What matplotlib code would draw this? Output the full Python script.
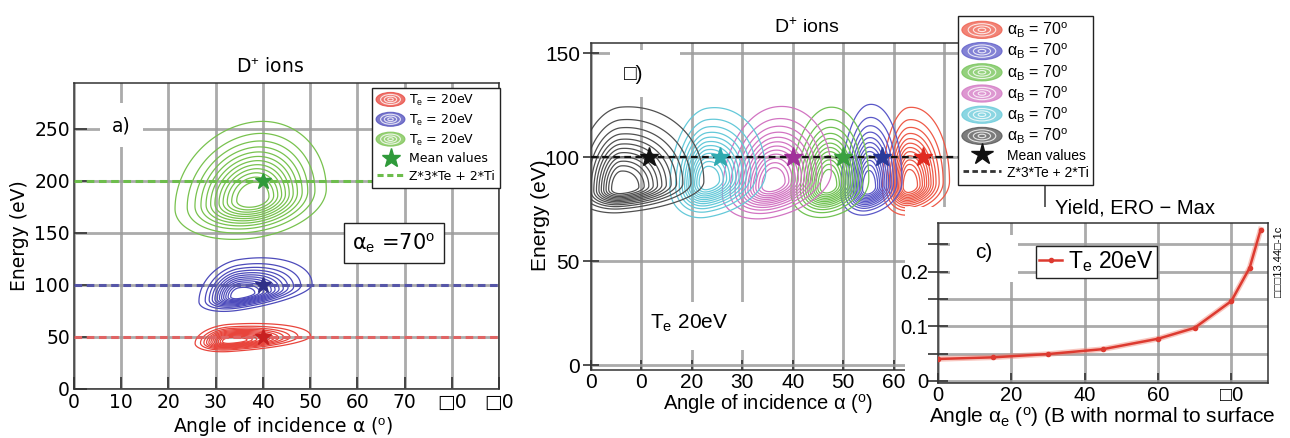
import numpy as np
import matplotlib
matplotlib.use("Agg")
import matplotlib.pyplot as plt
import matplotlib.patches as mpatches
from matplotlib.lines import Line2D
from matplotlib.legend_handler import HandlerBase
from matplotlib.patches import Ellipse, Rectangle

plt.rcParams['font.family'] = ['DejaVu Sans']
plt.rcParams['mathtext.fontset'] = 'custom'
plt.rcParams['mathtext.rm'] = 'Liberation Sans'
plt.rcParams['mathtext.it'] = 'Liberation Sans:italic'
LIB = ['Liberation Sans', 'DejaVu Sans']
DJV = ['DejaVu Sans']

# ---------------- data ----------------
# panel a: three Te cases (red, blue, green)
a_colors = ['#e8453c', '#4d4bbb', '#78c24e']
a_star_colors = ['#c82020', '#303088', '#2f9a3a']
a_line_colors = ['#e06464', '#5656a8', '#6dbd4c']
a_labels = ['T$_{\\rm e}$ = 20eV', 'T$_{\\rm e}$ = 20eV', 'T$_{\\rm e}$ = 20eV']
a_mean_x = [40, 40, 40]
a_mean_y = [50, 100, 200]
a_line_y = [50, 100, 200]
# distribution shape (peak and asymmetric widths)
a_peak_x = [33, 35, 38]
a_peak_y = [46, 90, 183]
a_sx_left = [3.1, 3.6, 7.0]
a_sx_right = [7.2, 6.5, 6.5]
a_sy_low = [4.2, 6.0, 16.0]
a_sy_high = [6.8, 14.5, 31.0]
a_tilt = [0.3, 0.7, 0.6]

# panel b: six alpha_B cases
b_colors = ['#ee5a48', '#5a58c8', '#70c252', '#d274c2', '#64c9d9', '#505050']
b_star_colors = ['#e02a20', '#2a3a9a', '#3aa040', '#a0309a', '#30aab0', '#111111']
b_labels = ['α$_{\\rm B}$ = 70$^{\\rm o}$'] * 6
b_mean_x = [65.8, 57.7, 50.0, 40.0, 25.6, 11.5]
b_mean_y = [100, 100, 100, 100, 100, 100]
b_line_y = 100
b_peak_x = [63.0, 55.0, 47.0, 36.0, 23.0, 6.0]
b_peak_y = [86, 85, 86, 87, 88, 85]
b_sx_left = [2.2, 2.3, 3.1, 4.2, 3.1, 3.8]
b_sx_right = [3.4, 2.8, 3.4, 4.9, 4.9, 6.9]
b_sy_low = [5.8, 5.3, 6.2, 6.7, 7.1, 4.9]
b_sy_high = [16.0, 17.0, 16.0, 15.6, 15.0, 16.5]
b_tilt = [0.3, 0.5, 0.4, 0.5, 0.4, 0.2]

# panel c: yield vs angle
c_angle = [0, 15, 30, 45, 60, 70, 80, 85, 88]
c_yield = [0.040, 0.043, 0.049, 0.058, 0.077, 0.097, 0.146, 0.207, 0.277]

a_xticks = [0, 10, 20, 30, 40, 50, 60, 70, 80, 90]
a_xticklabels = ['0', '10', '20', '30', '40', '50', '60', '70', '\u25a10', '\u25a10']
a_yticks = [0, 50, 100, 150, 200, 250]
b_xticks = [0, 10, 20, 30, 40, 50, 60, 70]
b_xticklabels = ['0', '0', '20', '30', '40', '50', '60', '']
b_yticks = [0, 50, 100, 150]
c_xticks = [0, 20, 40, 60, 80]
c_xticklabels = ['0', '20', '40', '60', '\u25a10']
c_yticks = [0, 0.05, 0.10, 0.15, 0.20, 0.25]
c_yticklabels = ['0', '', '0.1', '', '0.2', '']

W, H = 1290, 438
fig = plt.figure(figsize=(W / 100, H / 100), dpi=100)


def rect(l, r, t, b):
    return [l / W, 1 - b / H, (r - l) / W, (b - t) / H]


def white_box(l, r, t, b, z):
    fig.patches.append(Rectangle((l / W, 1 - b / H), (r - l) / W, (b - t) / H,
                                 transform=fig.transFigure, fc='white', ec='none', zorder=z))


def skew_gauss(X, Y, x0, y0, sxl, sxr, syl, syh, tilt):
    u = X - x0
    v = Y - y0 - tilt * u
    sx = np.where(u < 0, sxl, sxr)
    sy = np.where(v < 0, syl, syh)
    return np.exp(-0.5 * ((u / sx) ** 2 + (v / sy) ** 2))


class ContourIcon(HandlerBase):
    def create_artists(self, legend, orig_handle, xdescent, ydescent,
                       width, height, fontsize, trans):
        col = orig_handle.get_facecolor()
        cx = width / 2 - xdescent
        cy = height / 2 - ydescent
        arts = [Ellipse((cx, cy), width * 1.05, height * 1.35, facecolor=col,
                        edgecolor=col, lw=0.8, alpha=0.75, transform=trans)]
        for f in [0.72, 0.45, 0.2]:
            arts.append(Ellipse((cx, cy), width * f, height * 1.35 * f,
                                facecolor='none', edgecolor='white', lw=0.8,
                                alpha=0.8, transform=trans))
        return arts


def style_grid(ax):
    ax.grid(True, color='#9c9c9c', lw=2.0, alpha=0.85)
    ax.set_axisbelow(True)
    for s in ax.spines.values():
        s.set_color('#333333')
        s.set_linewidth(1.1)


levels = np.linspace(0.06, 0.88, 12)

# ---------------- panel a ----------------
axa = fig.add_axes(rect(74, 499, 83, 389))
xa = np.linspace(-5, 95, 500)
ya = np.linspace(-5, 300, 700)
XA, YA = np.meshgrid(xa, ya)
for i in range(3):
    Z = skew_gauss(XA, YA, a_peak_x[i], a_peak_y[i], a_sx_left[i], a_sx_right[i],
                   a_sy_low[i], a_sy_high[i], a_tilt[i])
    axa.contour(XA, YA, Z, levels=levels, colors=a_colors[i], linewidths=0.9, zorder=2)
for i in range(3):
    axa.axhline(a_line_y[i], color=a_line_colors[i], lw=2.2, ls=(0, (2.5, 1.5)), zorder=3)
    axa.plot(a_mean_x[i], a_mean_y[i], marker='*', ms=12, color=a_star_colors[i],
             ls='none', zorder=4)
axa.set_xlim(0, 90)
axa.set_ylim(0, 294)
axa.set_xticks(a_xticks)
axa.set_xticklabels(a_xticklabels)
axa.set_yticks(a_yticks)
axa.tick_params(direction='in', length=9, width=1.2, labelsize=13.5, pad=3, color='#333333')
style_grid(axa)

handles_a = [mpatches.Patch(facecolor=c, label=l) for c, l in zip(a_colors, a_labels)]
handles_a.append(Line2D([], [], marker='*', ms=14, color='#2f9a3a', ls='none', label='Mean values'))
handles_a.append(Line2D([], [], color='#6dbd4c', lw=2.2, ls=(0, (2, 1.2)), label='Z*3*Te + 2*Ti'))
lega = fig.legend(handles=handles_a, loc='upper left', bbox_to_anchor=(372 / W, 1 - 88 / H),
                  handler_map={mpatches.Patch: ContourIcon()}, prop=dict(family=DJV, size=9),
                  frameon=True, fancybox=False, framealpha=1, edgecolor='#222222',
                  handlelength=2.2, handleheight=0.9, handletextpad=0.4,
                  labelspacing=0.38, borderpad=0.38, borderaxespad=0)
lega.get_frame().set_linewidth(1.0)

fig.text(270 / W, 1 - 67 / H, 'D$^{+}$ ions', ha='center', va='center', fontsize=13.5)
fig.text(283 / W, 1 - 426 / H, 'Angle of incidence α ($^{\\rm o}$)', ha='center',
         va='center', fontsize=13.5)
fig.text(20 / W, 1 - 236 / H, 'Energy (eV)', ha='center', va='center', rotation=90, fontsize=13.5)
white_box(100, 143, 103, 147, 0.5)
fig.text(121 / W, 1 - 126 / H, 'a)', ha='center', va='center', fontsize=13.5)
fig.text(394 / W, 1 - 243 / H, 'α$_{\\rm e}$ =70$^{\\rm o}$', ha='center', va='center',
         fontsize=15, bbox=dict(boxstyle='square,pad=0.4', fc='white', ec='#222222', lw=1.0))

# ---------------- panel b ----------------
axb = fig.add_axes(rect(591, 1045, 43, 370))
xb = np.linspace(-5, 95, 600)
yb = np.linspace(-5, 160, 500)
XB, YB = np.meshgrid(xb, yb)
for i in range(6):
    Z = skew_gauss(XB, YB, b_peak_x[i], b_peak_y[i], b_sx_left[i], b_sx_right[i],
                   b_sy_low[i], b_sy_high[i], b_tilt[i])
    axb.contour(XB, YB, Z, levels=levels, colors=b_colors[i], linewidths=0.9, zorder=2)
axb.axhline(b_line_y, color='#111111', lw=1.6, ls=(0, (3, 2)), zorder=3)
for i in range(6):
    axb.plot(b_mean_x[i], b_mean_y[i], marker='*', ms=14, color=b_star_colors[i],
             ls='none', zorder=4)
axb.set_xlim(0, 90)
axb.set_ylim(-2.4, 155)
axb.set_xticks(b_xticks)
axb.set_xticklabels(b_xticklabels)
axb.set_yticks(b_yticks)
axb.tick_params(axis='x', direction='in', length=7, width=1.2, labelsize=15, pad=2,
                color='#333333', labelfontfamily='Liberation Sans')
axb.tick_params(axis='y', direction='inout', length=12, width=1.2, labelsize=15, pad=2,
                color='#333333', labelfontfamily='Liberation Sans')
style_grid(axb)

handles_b = [mpatches.Patch(facecolor=c, label=l) for c, l in zip(b_colors, b_labels)]
handles_b.append(Line2D([], [], marker='*', ms=16, color='#111111', ls='none', label='Mean values'))
handles_b.append(Line2D([], [], color='#333333', lw=2.0, ls=(0, (2, 1.2)), label='Z*3*Te + 2*Ti'))
legb = fig.legend(handles=handles_b, loc='upper left', bbox_to_anchor=(958 / W, 1 - 16 / H),
                  handler_map={mpatches.Patch: ContourIcon()}, prop=dict(family=LIB, size=11.5),
                  frameon=True, fancybox=False, framealpha=1, edgecolor='#222222',
                  handlelength=2.4, handleheight=0.85, handletextpad=0.35,
                  labelspacing=0.12, borderpad=0.3, borderaxespad=0)
legb.get_frame().set_linewidth(1.0)
for t in legb.get_texts()[6:]:
    t.set_fontsize(10)

fig.text(807 / W, 1 - 27 / H, 'D$^{+}$ ions', ha='center', va='center', fontsize=14, family=LIB)
fig.text(768 / W, 1 - 404 / H, 'Angle of incidence α ($^{\\rm o}$)', ha='center',
         va='center', fontsize=14.5, family=LIB)
fig.text(541 / W, 1 - 215 / H, 'Energy (eV)', ha='center', va='center', rotation=90,
         fontsize=15, family=LIB)
white_box(610, 680, 50, 97, 0.5)
fig.text(634 / W, 1 - 74 / H, '\u25a1)', ha='center', va='center', fontsize=15, family=LIB)
white_box(643, 777, 302, 350, 0.5)
fig.text(689 / W, 1 - 323 / H, 'T$_{\\rm e}$ 20eV', ha='center', va='center', fontsize=15,
         family=LIB)

# white backing for inset c (hides the lower right corner of panel b)
white_box(905, W, 207, 372, 0.5)

# ---------------- panel c ----------------
axc = fig.add_axes(rect(938, 1268, 223, 383))
axc.set_zorder(1)
axc.plot(c_angle, c_yield, color='#f08070', lw=4.0, alpha=0.45, zorder=3)
axc.plot(c_angle, c_yield, color='#dd3a30', lw=1.8, marker='o', ms=3, zorder=4,
         label='T$_{\\rm e}$ 20eV')
axc.set_xlim(0, 90)
axc.set_ylim(-0.004, 0.289)
axc.set_xticks(c_xticks)
axc.set_xticklabels(c_xticklabels)
axc.set_yticks(c_yticks)
axc.set_yticklabels(c_yticklabels)
axc.tick_params(axis='x', direction='in', length=7, width=1.2, labelsize=14.5, pad=2,
                color='#333333', labelfontfamily='Liberation Sans')
axc.tick_params(axis='y', direction='inout', length=14, width=1.2, labelsize=14.5, pad=0,
                color='#333333', labelfontfamily='Liberation Sans')
style_grid(axc)
legc = axc.legend(loc='upper left', bbox_to_anchor=(1036 / W, 1 - 246 / H),
                  bbox_transform=fig.transFigure, prop=dict(family=LIB, size=16.5),
                  frameon=True, fancybox=False, framealpha=1, edgecolor='#222222',
                  handlelength=1.0, handletextpad=0.25, borderpad=0.15, borderaxespad=0)
legc.get_frame().set_linewidth(1.0)
white_box(950, 1018, 235, 282, 1.5)
fig.text(984 / W, 1 - 252 / H, 'c)', ha='center', va='center', fontsize=15, family=LIB)

fig.text(1055 / W, 1 - 208 / H, 'Yield, ERO \u2212 Max', ha='left', va='center', fontsize=14.5,
         family=LIB)
fig.text(1102 / W, 1 - 417 / H, 'Angle α$_{\\rm e}$ ($^{\\rm o}$) (B with normal to surface',
         ha='center', va='center', fontsize=15, family=LIB)
fig.text(1279 / W, 1 - 262 / H, '\u25a1\u25a1\u25a113.44\u25a1-1c', ha='center', va='center',
         rotation=90, fontsize=8, family=LIB)

fig.savefig('out.png', dpi=100, facecolor='white')
